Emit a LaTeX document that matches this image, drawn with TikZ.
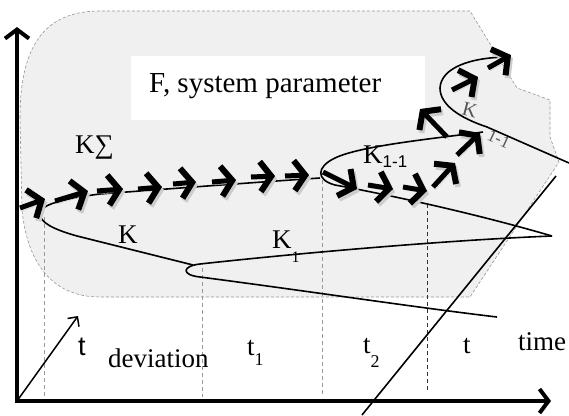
\documentclass[tikz,border=0pt]{standalone}
\usepackage{fontspec}
\setmainfont{Liberation Serif}
\newfontfamily\arialfont{Liberation Sans}
\usetikzlibrary{arrows.meta, calc}
\definecolor{regiongray}{RGB}{240,240,240}
\definecolor{edgegray}{RGB}{150,150,150}
\definecolor{labelgray}{RGB}{85,85,85}
\newcommand{\lowsub}[3][10pt]{\raisebox{-#1}{\fontsize{#2}{#2}\selectfont #3}}

\begin{document}
\begin{tikzpicture}[
    x=1pt, y=-1pt,
    lbl/.style={font=\fontsize{27}{30}\selectfont, inner sep=0pt, anchor=base west},
    curve/.style={line width=1.6pt, black},
    axis/.style={line width=4pt, -{Straight Barb[length=9pt,width=24pt]}},
    guide/.style={dash pattern=on 4pt off 3pt, line width=0.8pt, black!40},
    fatarrow/.style={line width=5pt,
        -{Straight Barb[length=11pt,width=30pt,line width=6pt]},
        preaction={draw=black!20, transform canvas={shift={(2pt,-3pt)}}}},
    thinarrow/.style={line width=1.5pt, -{Straight Barb[length=7pt,width=14pt]}}
]
\useasboundingbox (0,0) rectangle (569,415);

% system region
\path[fill=regiongray, draw=edgegray, densely dashed, line width=0.6pt]
    (20,118) .. controls (20,45) and (45,11) .. (100,11) -- (470,11) -- (517,88)
    -- (550,100) -- (550,137) -- (559,162) -- (470,297) -- (100,297)
    .. controls (50,297) and (27,260) .. (22,210) -- cycle;
\node[fill=white, minimum width=294pt, minimum height=64pt, inner sep=0pt] (parambox) at (278,88) {};
\node[lbl, font=\fontsize{29}{32}\selectfont] (param) at (149,92) {F, system parameter};

% key points
\coordinate (O) at (17,401);
\coordinate (ytop) at (17,27);
\coordinate (xend) at (551,401);
\coordinate (n0) at (40,214);
\coordinate (n1top) at (200,264);
\coordinate (kend) at (193,265);
\coordinate (v1) at (552,236);
\coordinate (e1) at (497,317);
\coordinate (n2) at (320,178);
\coordinate (e2) at (483,132);
\coordinate (e3a) at (510,57);
\coordinate (e3b) at (569,163);
\coordinate (tarrow) at (78,316);
\coordinate (diagA) at (362,415);
\coordinate (diagB) at (556,176);

% time marks
\foreach \gx/\gy in {44/217, 202/268, 322/180}
    \draw[guide] (\gx,\gy) -- (\gx,397);
\draw[guide, black!80] (427,204) -- (427,392);

% trajectory
\draw[curve] (kend) -- (77,236) .. controls (52,229) and (40,222) .. (n0)
    .. controls (40,207) and (52,200) .. (100,194) .. controls (180,188) and (260,182) .. (n2);
\draw[curve] (v1) .. controls (450,240) and (300,253) .. (n1top)
    .. controls (182,266) and (181,275) .. (200,277) .. controls (300,290) and (420,308) .. (e1);
\draw[curve] (e2) .. controls (430,139) and (360,146) .. (335,158)
    .. controls (316,167) and (316,180) .. (335,185) .. controls (400,197) and (480,215) .. (v1);
\draw[curve] (e3a) .. controls (470,57) and (441,68) .. (440,88)
    .. controls (440,105) and (460,118) .. (487,127) -- (e3b);
\draw[curve] (diagA) -- (diagB);

% flow arrows
\foreach \xa/\ya/\xb/\yb in {20/208/45/199, 55/201/88/191, 97/191/123/189, 138/189/162/187,
    173/184/196/182, 212/182/236/180, 251/177/275/176, 285/176/309/175,
    323/172/357/189, 368/185/393/189, 403/187/427/191,
    433/187/455/163, 457/155/480/133, 447/137/420/109, 452/90/478/77, 488/68/511/55}
    \draw[fatarrow] (\xa,\ya) -- (\xb,\yb);

% axes
\draw[thinarrow] (O) -- (tarrow);
\draw[axis] ($(O)+(0,2)$) -- (ytop);
\draw[axis] ($(O)+(-2,0)$) -- (xend);

% labels
\node[lbl] (ksum) at (75,153) {K∑};
\node[lbl] (klab) at (118,243) {K};
\node[lbl] (k1lab) at (272,248) {K\lowsub[14pt]{16}{1}};
\node[lbl] (k11lab) at (363,163) {K\lowsub[4pt]{17}{\arialfont 1-1}};
\node[lbl, font=\fontsize{20}{22}\selectfont, text=labelgray, rotate=-15] (krlab) at (461,114) {K};
\node[lbl, font=\fontsize{17}{19}\selectfont, text=labelgray, rotate=-25] (krsub) at (486,139) {1-1};
\node[lbl, font=\arialfont\fontsize{27}{30}\selectfont] (tdev) at (78,355) {t};
\node[lbl] (dev) at (108,367) {deviation};
\node[lbl] (t1) at (247,355) {t\lowsub[10pt]{18}{1}};
\node[lbl] (t2) at (363,353) {t\lowsub[14pt]{18}{2}};
\node[lbl] (tn) at (463,353) {t};
\node[lbl] (time) at (518,350) {time};
\end{tikzpicture}
\end{document}
